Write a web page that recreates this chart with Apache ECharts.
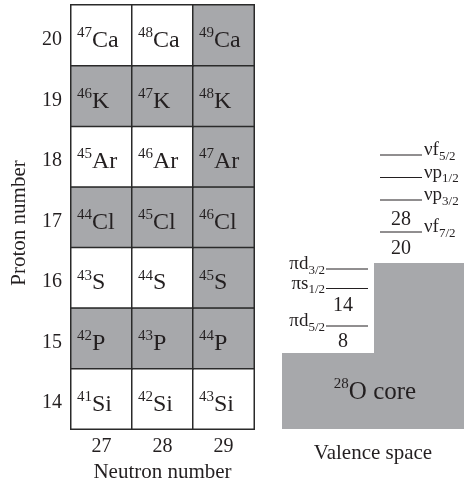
<!DOCTYPE html>
<html><head><meta charset="utf-8">
<script src="https://cdn.jsdelivr.net/npm/echarts@6/dist/echarts.min.js"></script>
<style>html,body{margin:0;padding:0;background:#fff}#c{width:465px;height:478px}</style>
</head><body><div id="c"></div>
<script>
// ---- nuclide chart data ----
const neutronNumbers = ['27', '28', '29'];
const protonNumbers = ['14', '15', '16', '17', '18', '19', '20'];
const elements = ['Si', 'P', 'S', 'Cl', 'Ar', 'K', 'Ca'];
const massNumbers = [
  [41, 42, 43],
  [42, 43, 44],
  [43, 44, 45],
  [44, 45, 46],
  [45, 46, 47],
  [46, 47, 48],
  [47, 48, 49]
];
const shaded = [
  [0, 0, 0],
  [1, 1, 1],
  [0, 0, 1],
  [1, 1, 1],
  [0, 0, 1],
  [1, 1, 1],
  [0, 0, 1]
];

// ---- valence space schematic (schematic energy units) ----
const coreOutline = [[0, 0], [0, 76], [92, 76], [92, 166], [182, 166], [182, 0]];
const protonOrbits = ['πd', 'πs', 'πd'];
const protonSubs = ['5/2', '1/2', '3/2'];
const protonEnergies = [103, 140.5, 160];
const neutronOrbits = ['νf', 'νp', 'νp', 'νf'];
const neutronSubs = ['7/2', '3/2', '1/2', '5/2'];
const neutronEnergies = [197, 229, 251.5, 274];
const protonGaps = ['8', '14'];
const protonGapEnergies = [87.5, 123.5];
const neutronGaps = ['20', '28'];
const neutronGapEnergies = [180, 209];
const coreLabel = ['28', 'O core'];

// ---- styles / layout ----
const SERIF = 'Liberation Serif';
const INK = '#231f20';
const GRAY = '#a7a8ab';
const PROTON_X = [44, 86];
const NEUTRON_X = [98, 140];
const PROTON_GAP_X = 61;
const NEUTRON_GAP_X = 119;
const CORE_LABEL_POS = [93, 38];

const heatData = [];
for (let r = 0; r < protonNumbers.length; r++) {
  for (let c = 0; c < neutronNumbers.length; c++) {
    heatData.push({ value: [c, r, shaded[r][c]], mass: massNumbers[r][c], el: elements[r] });
  }
}

const levelItems = [];
protonOrbits.forEach((o, i) => levelItems.push({ x1: PROTON_X[0], x2: PROTON_X[1], e: protonEnergies[i], name: o, sub: protonSubs[i], side: 'p' }));
neutronOrbits.forEach((o, i) => levelItems.push({ x1: NEUTRON_X[0], x2: NEUTRON_X[1], e: neutronEnergies[i], name: o, sub: neutronSubs[i], side: 'n' }));

const gapItems = [];
protonGaps.forEach((g, i) => gapItems.push({ x: PROTON_GAP_X, e: protonGapEnergies[i], t: g }));
neutronGaps.forEach((g, i) => gapItems.push({ x: NEUTRON_GAP_X, e: neutronGapEnergies[i], t: g }));

const chart = echarts.init(document.getElementById('c'), null, { renderer: 'canvas' });

const levelRich = {
  m: { fontSize: 19, verticalAlign: 'top', fontFamily: SERIF, fill: INK },
  s: { fontSize: 13, verticalAlign: 'top', padding: [9, 0, 0, 0], fontFamily: SERIF, fill: INK }
};

chart.setOption({
  animation: false,
  backgroundColor: '#fff',
  grid: [
    { left: 71, top: 5, width: 183, height: 424, outerBoundsMode: 'none', containLabel: false },
    { left: 282, top: 129, width: 182, height: 300, outerBoundsMode: 'none', containLabel: false }
  ],
  xAxis: [
    {
      gridIndex: 0, type: 'category', data: neutronNumbers, position: 'bottom',
      axisLine: { show: false }, axisTick: { show: false }, splitLine: { show: false },
      axisLabel: { margin: 8, fontSize: 20, fontFamily: SERIF, color: INK },
      name: 'Neutron number', nameLocation: 'middle', nameGap: 29,
      nameTextStyle: { fontSize: 21, fontFamily: SERIF, color: INK }
    },
    {
      gridIndex: 1, type: 'value', min: 0, max: 182,
      axisLine: { show: false }, axisTick: { show: false }, axisLabel: { show: false }, splitLine: { show: false },
      name: 'Valence space', nameLocation: 'middle', nameGap: 14,
      nameTextStyle: { fontSize: 21, fontFamily: SERIF, color: INK }
    }
  ],
  yAxis: [
    {
      gridIndex: 0, type: 'category', data: protonNumbers,
      axisLine: { show: false }, axisTick: { show: false }, splitLine: { show: false },
      axisLabel: {
        margin: 9, formatter: '{a|{value}}',
        rich: { a: { fontSize: 20, lineHeight: 29, verticalAlign: 'bottom', fontFamily: SERIF, color: INK } }
      },
      name: 'Proton number', nameLocation: 'middle', nameGap: 41,
      nameTextStyle: { fontSize: 21, fontFamily: SERIF, color: INK, padding: [0, 12, 0, 0] }
    },
    {
      gridIndex: 1, type: 'value', min: 0, max: 300, show: false
    }
  ],
  visualMap: {
    show: false, type: 'piecewise', dimension: 2, seriesIndex: 0,
    pieces: [{ value: 0, color: '#ffffff' }, { value: 1, color: GRAY }]
  },
  series: [
    {
      type: 'heatmap', xAxisIndex: 0, yAxisIndex: 0, data: heatData,
      itemStyle: { borderColor: '#2a2a2a', borderWidth: 1.5 },
      emphasis: { disabled: true },
      label: {
        show: true, position: 'insideLeft', distance: 7, offset: [0, 4],
        formatter: p => `{s|${p.data.mass}}{m|${p.data.el}}`,
        rich: {
          s: { fontSize: 15, verticalAlign: 'top', fontFamily: SERIF, color: INK },
          m: { fontSize: 24, verticalAlign: 'top', padding: [3, 0, 0, 0], fontFamily: SERIF, color: INK }
        }
      }
    },
    {
      type: 'custom', xAxisIndex: 1, yAxisIndex: 1, silent: true,
      data: [[0, 0]],
      renderItem: (params, api) => {
        const c = api.coord(CORE_LABEL_POS);
        return {
          type: 'group',
          children: [
            { type: 'polygon', shape: { points: coreOutline.map(p => api.coord(p)) }, style: { fill: GRAY } },
            {
              type: 'text', x: c[0], y: c[1],
              style: {
                text: `{s|${coreLabel[0]}}{m|${coreLabel[1]}}`,
                align: 'center', verticalAlign: 'middle',
                rich: {
                  s: { fontSize: 15, verticalAlign: 'top', fontFamily: SERIF, fill: INK },
                  m: { fontSize: 25, verticalAlign: 'top', padding: [3, 0, 0, 0], fontFamily: SERIF, fill: INK }
                }
              }
            }
          ]
        };
      }
    },
    {
      type: 'custom', xAxisIndex: 1, yAxisIndex: 1, silent: true,
      data: levelItems.map(d => [d.x1, d.e]),
      renderItem: (params, api) => {
        const d = levelItems[params.dataIndex];
        const p1 = api.coord([d.x1, d.e]);
        const p2 = api.coord([d.x2, d.e]);
        const isP = d.side === 'p';
        return {
          type: 'group',
          children: [
            { type: 'line', shape: { x1: p1[0], y1: p1[1], x2: p2[0], y2: p2[1] }, style: { stroke: INK, lineWidth: 1 } },
            {
              type: 'text', x: isP ? p1[0] - 1 : p2[0] + 2, y: p1[1] - 14.3,
              style: {
                text: `{m|${d.name}}{s|${d.sub}}`,
                align: isP ? 'right' : 'left', verticalAlign: 'top',
                rich: levelRich
              }
            }
          ]
        };
      }
    },
    {
      type: 'custom', xAxisIndex: 1, yAxisIndex: 1, silent: true,
      data: gapItems.map(d => [d.x, d.e]),
      renderItem: (params, api) => {
        const d = gapItems[params.dataIndex];
        const p = api.coord([d.x, d.e]);
        return {
          type: 'text', x: p[0], y: p[1],
          style: { text: d.t, align: 'center', verticalAlign: 'middle', fontSize: 20, fontFamily: SERIF, fill: INK }
        };
      }
    }
  ]
});
</script>
</body></html>
